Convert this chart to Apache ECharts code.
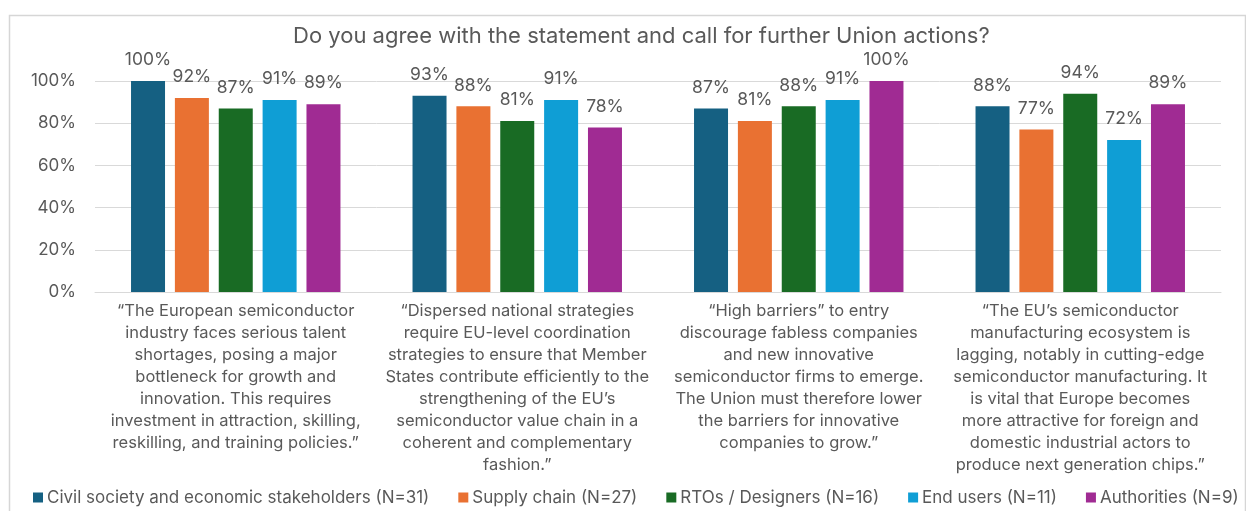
<!DOCTYPE html>
<html>
<head>
<meta charset="utf-8">
<style>
  html, body { margin: 0; padding: 0; background: #ffffff; }
  #chart { width: 1246px; height: 511px; }
</style>
<script src="https://cdn.jsdelivr.net/npm/echarts@6/dist/echarts.min.js"></script>
</head>
<body>
<div id="chart"></div>
<script>
// Statements shown under each group of bars
const statements = [
  '“The European semiconductor\nindustry faces serious talent\nshortages, posing a major\nbottleneck for growth and\ninnovation. This requires\ninvestment in attraction, skilling,\nreskilling, and training policies.”',
  '“Dispersed national strategies\nrequire EU-level coordination\nstrategies to ensure that Member\nStates contribute efficiently to the\nstrengthening of the EU’s\nsemiconductor value chain in a\ncoherent and complementary\nfashion.”',
  '“High barriers” to entry\ndiscourage fabless companies\nand new innovative\nsemiconductor firms to emerge.\nThe Union must therefore lower\nthe barriers for innovative\ncompanies to grow.”',
  '“The EU’s semiconductor\nmanufacturing ecosystem is\nlagging, notably in cutting-edge\nsemiconductor manufacturing. It\nis vital that Europe becomes\nmore attractive for foreign and\ndomestic industrial actors to\nproduce next generation chips.”'
];

// Share of respondents agreeing, per stakeholder group (%)
const civilSociety  = [100, 93, 87, 88];
const supplyChain   = [92, 88, 81, 77];
const rtosDesigners = [87, 81, 88, 94];
const endUsers      = [91, 91, 91, 72];
const authorities   = [89, 78, 100, 89];

const seriesNames = [
  'Civil society and economic stakeholders (N=31)',
  'Supply chain (N=27)',
  'RTOs / Designers (N=16)',
  'End users (N=11)',
  'Authorities (N=9)'
];
const seriesValues = [civilSociety, supplyChain, rtosDesigners, endUsers, authorities];
const colors = ['#156082', '#E97132', '#196B24', '#0F9ED5', '#A02B93'];

const yTicks = { min: 0, max: 100, interval: 20 };

const FONT = 'Inter, "Noto Sans", sans-serif';
const TEXT = '#595959';

const chart = echarts.init(document.getElementById('chart'), null, { renderer: 'canvas' });

chart.setOption({
  backgroundColor: '#ffffff',
  color: colors,
  textStyle: { fontFamily: FONT },
  title: {
    text: 'Do you agree with the statement and call for further Union actions?',
    left: 288,
    top: 20,
    textStyle: { fontFamily: FONT, fontSize: 22, fontWeight: 'normal', color: TEXT }
  },
  graphic: [{
    type: 'rect',
    left: 7, top: 13,
    shape: { width: 1236, height: 520 },
    style: { fill: 'none', stroke: '#d6d6d6', lineWidth: 1.5 },
    silent: true, z: -1
  }],
  legend: {
    top: 489,
    left: 33,
    width: 1240,
    padding: 0,
    itemWidth: 10,
    itemHeight: 10,
    itemGap: 29,
    icon: 'rect',
    textStyle: { fontFamily: FONT, fontSize: 17, color: TEXT, padding: [0, 0, 0, -1] },
    data: seriesNames
  },
  grid: { left: 95, right: 25, top: 81, bottom: 219, containLabel: false },
  xAxis: {
    type: 'category',
    data: statements,
    axisTick: { show: false },
    axisLine: { show: true, lineStyle: { color: '#d9d9d9', width: 1 } },
    axisLabel: {
      interval: 0,
      margin: 8,
      fontFamily: FONT,
      fontSize: 16.5,
      lineHeight: 22,
      color: TEXT,
      align: 'center'
    }
  },
  yAxis: {
    type: 'value',
    min: yTicks.min,
    max: yTicks.max,
    interval: yTicks.interval,
    axisLine: { show: false },
    axisTick: { show: false },
    splitLine: { lineStyle: { color: '#d9d9d9', width: 1 } },
    axisLabel: {
      formatter: '{value}%',
      margin: 19,
      fontFamily: FONT,
      fontSize: 17,
      color: TEXT
    }
  },
  series: seriesNames.map((name, i) => ({
    name: name,
    type: 'bar',
    data: seriesValues[i],
    barWidth: 34,
    barGap: '29%',
    itemStyle: { color: colors[i] },
    label: {
      show: true,
      position: 'top',
      distance: 12,
      formatter: '{c}%',
      fontFamily: FONT,
      fontSize: 17.5,
      color: TEXT
    }
  }))
});
</script>
</body>
</html>
